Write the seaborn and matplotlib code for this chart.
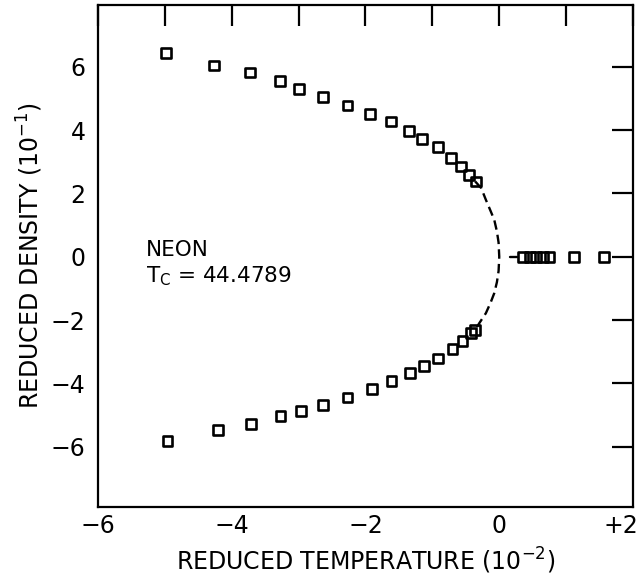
import matplotlib
matplotlib.use("Agg")
import matplotlib.pyplot as plt
import matplotlib.transforms as mtransforms
import seaborn as sns
import pandas as pd

# ---- data (T in 1e-2, rho in 1e-1) ----
upper_t = [-4.98, -4.26, -3.73, -3.28, -3.00, -2.64, -2.27, -1.93,
           -1.62, -1.35, -1.15, -0.91, -0.72, -0.57, -0.45, -0.35]
upper_rho = [6.43, 6.04, 5.82, 5.56, 5.31, 5.04, 4.78, 4.52,
             4.27, 3.96, 3.72, 3.47, 3.12, 2.85, 2.59, 2.38]
lower_t = [-4.96, -4.21, -3.71, -3.27, -2.97, -2.63, -2.27, -1.90,
           -1.61, -1.33, -1.12, -0.91, -0.70, -0.55, -0.42, -0.36]
lower_rho = [-5.81, -5.48, -5.27, -5.02, -4.86, -4.67, -4.44, -4.17,
             -3.92, -3.68, -3.44, -3.21, -2.90, -2.65, -2.41, -2.31]
above_t = [0.36, 0.46, 0.55, 0.66, 0.75, 1.12, 1.57]
above_rho = [0.0, 0.0, 0.0, 0.0, 0.0, 0.0, 0.0]
curve_t = [-0.36, -0.27, -0.20, -0.13, -0.075, -0.035, -0.01, 0.0,
           -0.01, -0.035, -0.075, -0.13, -0.20, -0.30, -0.36]
curve_rho = [2.38, 2.17, 1.80, 1.45, 1.17, 0.80, 0.45, 0.0,
             -0.45, -0.80, -1.15, -1.45, -1.78, -2.10, -2.31]
iso_t = [0.16, 0.27]
iso_rho = [0.0, 0.0]

x_ticks = [-6, -5, -4, -3, -2, -1, 0, 1, 2]
x_tick_labels = ["\u22126", "", "\u22124", "", "\u22122", "", "0", "", "+2"]
y_ticks = [-6, -4, -2, 0, 2, 4, 6]
y_tick_labels = ["\u22126", "\u22124", "\u22122", "0", "2", "4", "6"]

label_name = "NEON"
label_tc = r"T$_{\rm C}$ = 44.4789"
x_label = r"REDUCED TEMPERATURE (10$^{-2}$)"
y_label = r"REDUCED DENSITY (10$^{-1}$)"

# ---- styling ----
sns.set_theme(style="white")
plt.rcParams['font.family'] = ['DejaVu Sans']
plt.rcParams['mathtext.fontset'] = 'dejavusans'

fig = plt.figure(figsize=(6.42, 5.77), dpi=100)
ax = fig.add_axes([0.1526, 0.1213, 0.8334, 0.870])

pts = pd.DataFrame({
    "t": upper_t + lower_t + above_t,
    "rho": upper_rho + lower_rho + above_rho,
})

sns.lineplot(x=curve_t, y=curve_rho, sort=False, estimator=None, ax=ax,
             color="black", lw=1.7, linestyle=(0, (4, 2.2)))
sns.lineplot(x=iso_t, y=iso_rho, sort=False, estimator=None, ax=ax,
             color="black", lw=1.7)
sns.scatterplot(data=pts, x="t", y="rho", marker="s", s=50, ax=ax,
                color="black", facecolor="none", edgecolor="black",
                linewidth=1.9, zorder=3)

ax.set_xlim(-6, 2)
ax.set_ylim(-7.9, 7.95)
ax.set_xticks(x_ticks)
ax.set_xticklabels(x_tick_labels)
ax.set_yticks(y_ticks)
ax.set_yticklabels(y_tick_labels)

for sp in ax.spines.values():
    sp.set_visible(True)
    sp.set_color("black")
    sp.set_linewidth(1.6)

ax.tick_params(direction="in", length=15, width=1.6, top=True, right=True,
               labelsize=17, colors="black")
ax.tick_params(axis="x", pad=5)
ax.tick_params(axis="y", pad=9)

# keep the "+2" label inside the figure, like the reference
last = ax.get_xticklabels()[-1]
last.set_horizontalalignment("right")
last.set_transform(last.get_transform() +
                   mtransforms.ScaledTranslation(3.5 / 72, 0, fig.dpi_scale_trans))

ax.set_xlabel(x_label, fontsize=17, labelpad=6, color="black")
ax.set_ylabel(y_label, fontsize=17, labelpad=4, color="black")

ax.text(-5.28, 0.22, label_name, fontsize=15.5, ha="left", va="center", color="black")
ax.text(-5.28, -0.62, label_tc, fontsize=15.5, ha="left", va="center", color="black")

fig.savefig("out.png", dpi=100, facecolor="white")
